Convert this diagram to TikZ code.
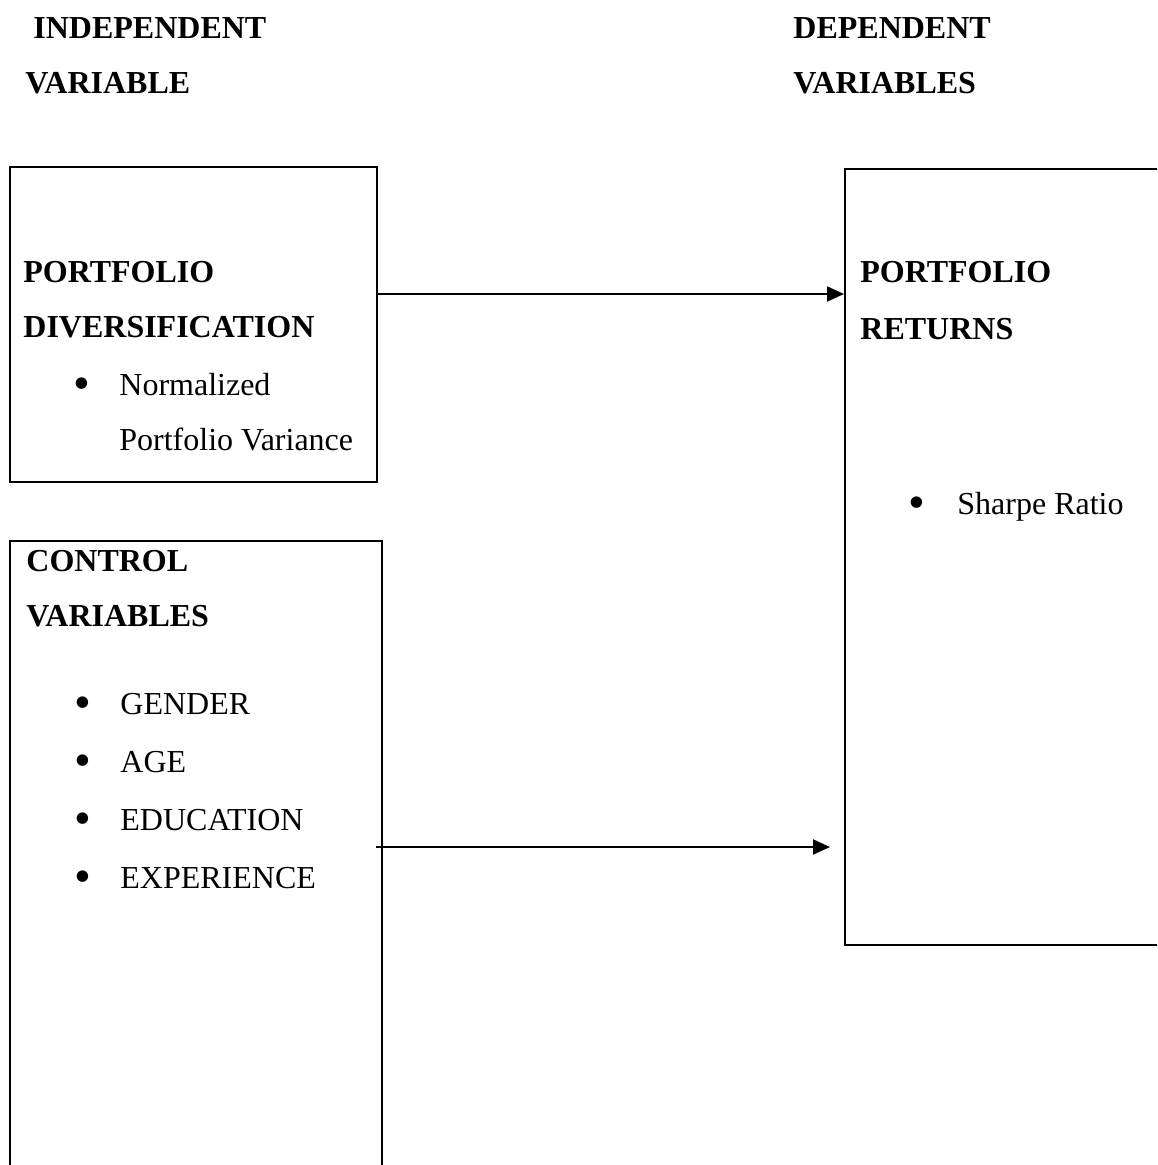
\documentclass[tikz,border=0pt]{standalone}
\usepackage{fontspec}
\usepackage{graphicx}
\setmainfont{Liberation Serif}
\usetikzlibrary{arrows.meta,positioning}
\newcommand{\blt}{\raisebox{-0.15em}{\scalebox{1.5}{•}}}

\begin{document}
\begin{tikzpicture}[x=0.5pt,y=-0.5pt,font=\fontsize{16pt}{19pt}\selectfont,
  box/.style={draw,line width=1.1pt,anchor=north west,inner sep=0pt},
  txt/.style={anchor=base west,inner sep=0pt},
  head/.style={txt,font=\fontsize{16pt}{19pt}\selectfont\bfseries},
  item/.style={txt},
  link/.style={-{Triangle[length=8.5pt,width=7.5pt]},line width=1pt}]
\clip (0,0) rectangle (1157,1165);
% boxes
\node[box,minimum width=183.5pt,minimum height=157.5pt] (divbox) at (9,166) {};
\node[box,minimum width=186pt,minimum height=340pt] (ctrlbox) at (9,540) {};
\node[box,minimum width=180pt,minimum height=388pt] (retbox) at (844,168) {};
% headings
\node[head] (indep) at (33,39) {INDEPENDENT};
\node[head] (indepvar) at (25,94) {VARIABLE};
\node[head] (dep) at (793,39) {DEPENDENT};
\node[head] (depvar) at (793,94) {VARIABLES};
% independent variable
\node[head] (div1) at (23,283) {PORTFOLIO};
\node[head] (div2) at (23,338) {DIVERSIFICATION};
\node[item] (div3) at (73,395) {\makebox[23pt][l]{\blt}Normalized};
\node[item] (div4) at (119,450) {Portfolio Variance};
% control variables
\node[head] (ctrl1) at (26,571) {CONTROL};
\node[head] (ctrl2) at (26,626) {VARIABLES};
\foreach \t [count=\i] in {GENDER,AGE,EDUCATION,EXPERIENCE}
  \node[item] (c\i) at (74,{714+58*(\i-1)}) {\makebox[23pt][l]{\blt}\t};
% dependent variables
\node[head] (ret1) at (860,283) {PORTFOLIO};
\node[head] (ret2) at (860,340) {RETURNS};
\node[item] (ret3) at (908,514) {\makebox[24.5pt][l]{\blt}Sharpe Ratio};
% links
\coordinate (a1) at (376,294);
\draw[link] (a1) -- (a1 -| retbox.west);
\coordinate (a2) at (376,847);
\draw[link] (a2) -- ([xshift=-7pt]a2 -| retbox.west);
\end{tikzpicture}
\end{document}
